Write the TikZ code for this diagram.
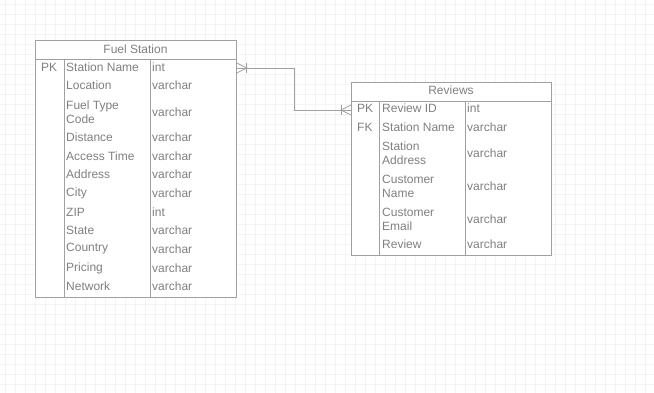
\documentclass[tikz,border=0pt]{standalone}
\usepackage{fontspec}
\setmainfont{Liberation Sans}
\definecolor{textgray}{RGB}{128,128,128}
\definecolor{linegray}{RGB}{160,160,160}
\definecolor{gridgray}{RGB}{244,244,244}
\tikzset{
  line/.style={draw=linegray, line width=0.8pt},
  gridline/.style={draw=gridgray, line width=0.5pt},
  tablebox/.style={line, rectangle, inner sep=0pt, anchor=north west},
  cell/.style={anchor=west, inner sep=0pt, text=textgray, align=left,
    font=\fontsize{12}{14}\selectfont},
  title/.style={cell, anchor=center}
}
\begin{document}
\begin{tikzpicture}[x=1pt, y=-1pt]
    \useasboundingbox (0,0) rectangle (654,393);
    % background grid
    \foreach \g in {5,15,...,655}
    \draw [gridline] (\g,0) -- (\g,393);
    \foreach \g in {4,14,...,394}
    \draw [gridline] (0,\g) -- (654,\g);
    % Fuel Station table
    \node [tablebox, fill=white, minimum width=201pt, minimum height=257pt] (fuel) at (35,40) {};
    \node [title] (fueltitle) at (135.5,49) {Fuel Station};
    \draw [line] (35,59) -- (236,59);
    \foreach \x in {64,150}
    \draw [line] (\x,59) -- (\x,297);
    \node [cell] (fuelpk) at (41,67) {PK};
    \foreach \y/\name/\type in {67/Station Name/int, 85/Location/varchar,
        112/{Fuel Type\\Code}/varchar, 137/Distance/varchar, 156/Access Time/varchar,
        174/Address/varchar, 193/City/varchar, 212/ZIP/int, 230/State/varchar,
        249/Country/varchar, 268/Pricing/varchar, 286/Network/varchar}
    {
      \node [cell] (fs-\y) at (66,\y) {\name};
      \node [cell] (fstype-\y) at (152,\y) {\type};
    }
    % Reviews table
    \node [tablebox, fill=white, minimum width=200pt, minimum height=173pt] (reviews) at (351,82) {};
    \node [title] (reviewstitle) at (451,90) {Reviews};
    \draw [line] (351,101) -- (551,101);
    \foreach \x in {379,465}
    \draw [line] (\x,101) -- (\x,255);
    \node [cell] (rvpk) at (357,108) {PK};
    \node [cell] (rvfk) at (357,127) {FK};
    \foreach \y/\name/\type in {108/Review ID/int, 127/Station Name/varchar,
        153/{Station\\Address}/varchar, 186/{Customer\\Name}/varchar,
        219/{Customer\\Email}/varchar, 244/Review/varchar}
    {
      \node [cell] (rv-\y) at (382,\y) {\name};
      \node [cell] (rvtype-\y) at (467,\y) {\type};
    }
    % relation Station Name -> Station Name
    \coordinate (fsend) at (fuel.east |- 0,68);
    \coordinate (rvend) at (reviews.west |- 0,110);
    \draw [line] (fsend) -- ++(58,0) |- (rvend);
    \draw [line] (fsend) ++(0,-5) -- ++(10,5) -- ++(-10,5);
    \draw [line] (fsend) ++(10,-5) -- ++(0,10);
    \draw [line] (rvend) ++(0,-5) -- ++(-10,5) -- ++(10,5);
    \draw [line] (rvend) ++(-10,-5) -- ++(0,10);
\end{tikzpicture}
\end{document}
